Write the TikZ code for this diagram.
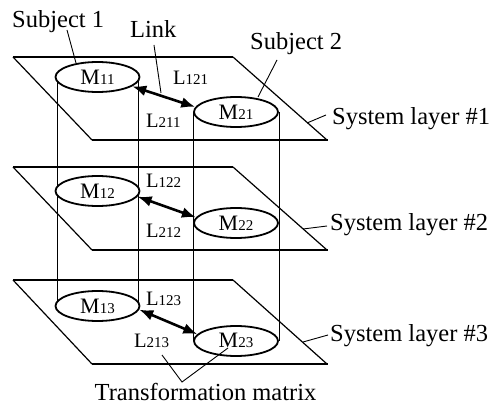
\documentclass[tikz,border=0pt]{standalone}
\usepackage{fontspec}
\setmainfont{Liberation Serif}
\usetikzlibrary{arrows.meta,shapes.geometric}
\newcommand\mlab[2]{{\fontsize{22}{22}\selectfont #1}{\fontsize{15}{15}\selectfont #2}}
\newcommand\llab[2]{{\fontsize{20.5}{20.5}\selectfont #1}{\fontsize{15}{15}\selectfont #2}}
\begin{document}
\begin{tikzpicture}[x=1pt,y=-1pt,
  big/.style={font=\fontsize{24.5}{26}\selectfont, inner sep=0pt},
  lname/.style={inner sep=0pt, anchor=base west},
  subj/.style={ellipse, draw, line width=1.8pt, fill=white, minimum width=84pt, minimum height=30pt, inner sep=0pt},
  edge/.style={line width=1.2pt},
  bold/.style={line width=2.8pt},
  topedge/.style={line width=1.8pt},
  col/.style={line width=0.9pt},
  lead/.style={line width=0.9pt},
  link/.style={line width=2.6pt, {Latex[length=14pt,width=11pt]}-{Latex[length=14pt,width=11pt]}}]
\useasboundingbox (0,0) rectangle (490,409);
% layers
\foreach \t/\b in {57/140,167/250,280/364}{
  \draw[topedge] (13,\t) -- (233,\t);
  \draw[edge] (233,\t) -- (327,\b);
  \draw[edge] (13,\t) -- (92,\b);
  \draw[bold] (92,\b) -- (328,\b);
}
% columns
\coordinate (c1a) at (57,77);  \coordinate (c1b) at (57,306);
\coordinate (c2a) at (138,77); \coordinate (c2b) at (138,306);
\coordinate (c3a) at (193,112); \coordinate (c3b) at (193,341);
\coordinate (c4a) at (279,112); \coordinate (c4b) at (279,341);
\draw[col] (c1a) -- (c1b) (c2a) -- (c2b) (c3a) -- (c3b) (c4a) -- (c4b);
% subjects
\node[subj] (m11) at (97.5,77) {\mlab{M}{11}};
\node[subj] (m21) at (236,112) {\mlab{M}{21}};
\node[subj] (m12) at (97.5,191) {\mlab{M}{12}};
\node[subj] (m22) at (236,223) {\mlab{M}{22}};
\node[subj] (m13) at (97.5,306) {\mlab{M}{13}};
\node[subj] (m23) at (236,341) {\raisebox{2pt}{\mlab{M}{23}}};
% links
\draw[link] (m11.-15) -- (m21.173);
\draw[link] (m12.-8) -- (m22.172);
\draw[link] (m13.-5) -- (m23.170);
% link labels
\node[lname] (l121) at (173,85) {\llab{L}{121}};
\node[lname] (l211) at (146,128) {\llab{L}{211}};
\node[lname] (l122) at (146,187) {\llab{L}{122}};
\node[lname] (l212) at (146,237) {\llab{L}{212}};
\node[lname] (l123) at (146,305) {\llab{L}{123}};
\node[lname] (l213) at (134,347) {\llab{L}{213}};
% texts
\node[big, anchor=base west] (s1) at (12,28) {Subject 1};
\node[big, anchor=base west] (lk) at (130,38) {Link};
\node[big, anchor=base west] (s2) at (250,50) {Subject 2};
\node[big, anchor=base west] (sl1) at (332,125) {System layer \#1};
\node[big, anchor=base west] (sl2) at (330,230) {System layer \#2};
\node[big, anchor=base west] (sl3) at (330,341) {System layer \#3};
\node[big, anchor=base] (tm) at (205.5,400) {Transformation matrix};
% leaders
\coordinate (p1) at (67,30);  \coordinate (q1) at (76,63);
\coordinate (p2) at (154,45); \coordinate (q2) at (161,93);
\coordinate (p3) at (277,60); \coordinate (q3) at (258,97);
\draw[lead] (p1) -- (q1);
\draw[lead] (p2) -- (q2);
\draw[lead] (p3) -- (q3);
\coordinate (a1) at (307,123); \coordinate (b1) at (326,115);
\coordinate (a2) at (303,229); \coordinate (b2) at (327,226);
\coordinate (a3) at (303,342); \coordinate (b3) at (328,335);
\draw[lead] (a1) -- (b1);
\draw[lead] (a2) -- (b2);
\draw[lead] (a3) -- (b3);
\coordinate (t1) at (162,355); \coordinate (t0) at (182,382); \coordinate (t2) at (228,348);
\draw[lead] (t1) -- (t0) -- (t2);
\end{tikzpicture}
\end{document}
